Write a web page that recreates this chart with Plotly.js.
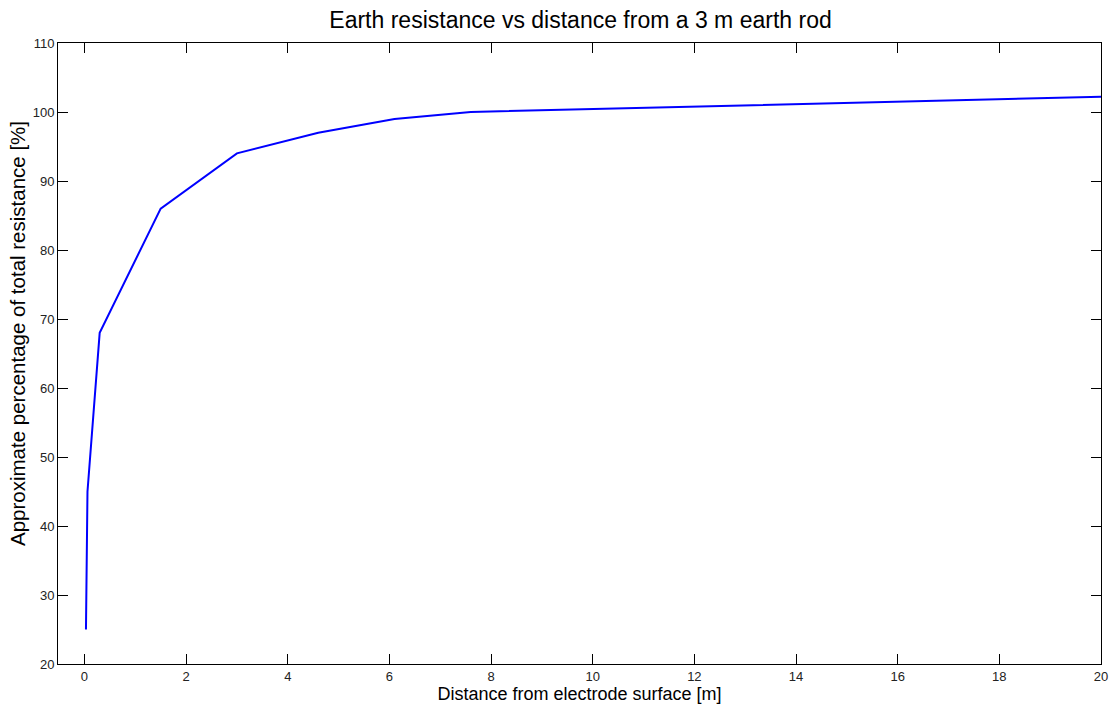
<!DOCTYPE html>
<html>
<head>
<meta charset="utf-8">
<script src="https://cdn.plot.ly/plotly-3.0.1.min.js"></script>
<style>html,body{margin:0;padding:0;background:#fff;}#chart{width:1110px;height:704px;}</style>
</head>
<body>
<div id="chart"></div>
<script>
const distance = [0.03, 0.06, 0.3, 1.5, 3, 4.6, 6.1, 7.6, 20];
const percentage = [25, 45, 68, 86, 94, 97, 99, 100, 102.2];
const xTicks = [0, 2, 4, 6, 8, 10, 12, 14, 16, 18, 20];
const yTicks = [20, 30, 40, 50, 60, 70, 80, 90, 100, 110];
const yTitle = 'Approximate percentage of total resistance [%]';

const fontFam = 'Liberation Sans, Arial, Helvetica, sans-serif';
const axisCommon = {
  showgrid: false, zeroline: false, showline: true, linecolor: '#000', linewidth: 1,
  mirror: 'ticks', ticks: 'inside', ticklen: 10, tickcolor: '#000', tickwidth: 1,
  tickfont: {family: fontFam, size: 13, color: '#222'}
};
Plotly.newPlot('chart', [{
  x: distance, y: percentage, type: 'scatter', mode: 'lines',
  line: {color: '#0000ff', width: 2}, hoverinfo: 'skip'
}], {
  width: 1110, height: 704,
  margin: {l: 58, r: 9, t: 43, b: 40},
  paper_bgcolor: '#fff', plot_bgcolor: '#fff',
  showlegend: false,
  title: {text: 'Earth resistance vs distance from a 3 m earth rod', font: {family: fontFam, size: 23, color: '#000'}, x: 0.523, xanchor: 'center', y: 0.971, yanchor: 'middle'},
  xaxis: Object.assign({}, axisCommon, {
    range: [-0.52, 20], tickvals: xTicks, ticktext: xTicks.map(String),
    title: {text: 'Distance from electrode surface [m]', font: {family: fontFam, size: 18, color: '#000'}, standoff: 0}
  }),
  yaxis: Object.assign({}, axisCommon, {
    range: [20, 110], tickvals: yTicks, ticktext: yTicks.map(String)
  }),
  annotations: [{
    text: yTitle, textangle: -90, showarrow: false,
    xref: 'paper', yref: 'paper', x: -41 / 1043, y: (664 - 334) / 621,
    xanchor: 'center', yanchor: 'middle',
    font: {family: fontFam, size: 20.5, color: '#000'}
  }]
}, {displayModeBar: false, staticPlot: true});
</script>
</body>
</html>
